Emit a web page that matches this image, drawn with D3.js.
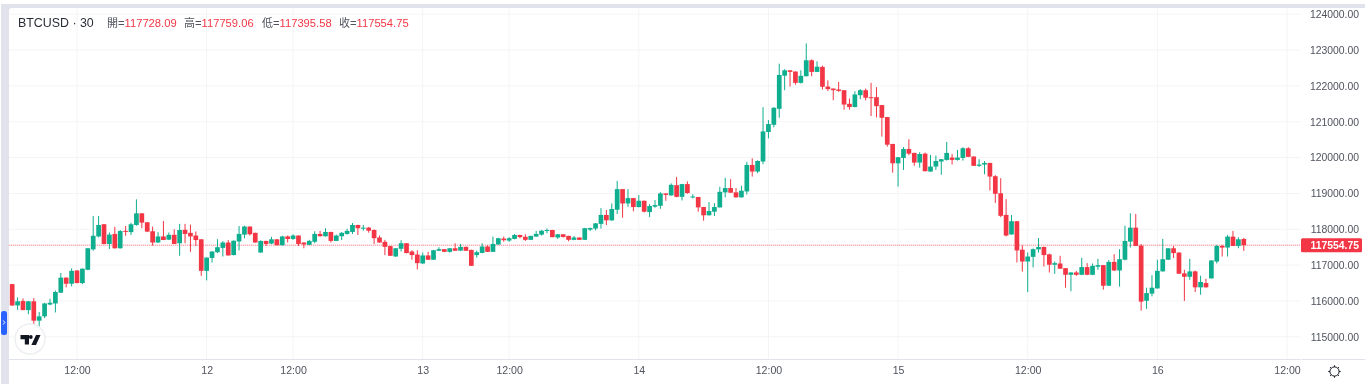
<!DOCTYPE html>
<html>
<head>
<meta charset="utf-8">
<script src="https://cdn.jsdelivr.net/npm/d3@7"></script>
<style>
    html, body { margin: 0; padding: 0; background: #fff; overflow: hidden; }
    svg { display: block; filter: blur(0.3px); }
    .price-axis text, .time-axis text { font-family: "Liberation Sans", sans-serif; font-size: 10.4px; fill: #50535e; }
    .time-axis text { font-size: 10.6px; }
    .legend text { font-family: "Liberation Sans", "Noto Sans CJK TC", sans-serif; }
</style>
</head>
<body>
<div id="chart"></div>
<script>
// BTCUSD 30 min candles
const opens = [
    116470,115875,116000,115745,115990,115450,115570,115900,115930,116230,
    116650,116480,116850,116500,116870,117440,117800,118140,117590,117870,
    117470,117955,117920,118120,118445,118195,117945,117630,117800,117710,
    117845,117610,117985,117900,117825,117720,116840,117200,117360,117480,
    117630,117280,117660,117850,118075,117900,117350,117675,117600,117720,
    117555,117800,117730,117825,117630,117565,117650,117870,117805,117925,
    117675,117805,117870,117925,118120,118020,118045,117980,117770,117650,
    117530,117240,117455,117610,117380,117295,117045,117270,117150,117400,
    117445,117370,117470,117405,117510,117425,117280,117340,117520,117370,
    117575,117740,117685,117730,117840,117790,117705,117795,117850,117955,
    117980,117770,117860,117815,117705,117770,117705,117990,118020,118150,
    118400,118250,118545,119120,118720,118870,118620,118795,118480,118630,
    118655,119000,118945,119230,118905,119260,118890,118900,118620,118390,
    118490,118610,119030,119150,119030,118890,119055,119795,119610,119890,
    120715,120915,121360,122285,122435,122400,122085,122270,122715,122390,
    122530,121980,121925,121900,121880,121500,121410,121740,121880,121685,
    121685,121465,121130,120380,119840,119990,120240,120130,119860,120110,
    119610,119750,119890,119935,120000,119935,119990,120260,120030,119770,
    119805,119850,119480,119005,118400,117855,118225,117430,117100,117230,
    117440,117505,117300,117010,117045,116915,116730,116795,116730,116945,
    116730,116955,117000,116425,117090,116850,117150,117655,118045,117545,
    116005,116205,116350,116825,117150,117470,117350,116770,116675,116825,
    116380,116500,116630,117100,117535,117490,117795,117535,117728.09
]
const highs = [
    116480,116100,116070,116000,116080,115690,115950,116060,116290,116780,
    116660,116910,116860,116910,117480,118370,118370,118150,117910,118070,
    117980,118090,118180,118835,118450,118200,118075,117920,118230,117910,
    118000,118150,118150,118130,117940,117725,117215,117385,117725,117670,
    117700,117690,118090,118100,118080,117905,117690,117680,117790,117725,
    117820,117825,117860,117830,117635,117705,117945,117955,118030,117930,
    117850,117925,118010,118175,118125,118120,118065,118000,117825,117705,
    117535,117475,117695,117615,117415,117415,117350,117370,117425,117500,
    117450,117475,117610,117590,117515,117430,117405,117610,117555,117795,
    117760,117795,117780,117870,117850,117860,117820,117955,117980,118025,
    117985,117865,117865,117820,117815,117775,118040,118045,118170,118590,
    118540,118720,119350,119125,119120,118875,118955,118800,118700,118815,
    119035,119005,119280,119460,119265,119335,118980,118905,118625,118760,
    118730,119185,119435,119400,119150,119215,119880,119980,119925,121405,
    121045,121405,122620,122465,122440,122405,122435,123185,122740,122685,
    122565,122155,121930,122110,121885,121650,121850,121910,121925,122085,
    121965,121470,121135,120385,120015,120290,120510,120135,120150,120140,
    120075,120055,119960,120435,120100,120215,120290,120290,120035,119955,
    119905,119855,119510,119425,118840,118400,118230,117550,117355,117465,
    117755,117520,117320,117100,117260,116920,116800,116835,117205,117055,
    117045,117175,117005,117140,117305,117445,118100,118445,118425,117590,
    116370,116720,117150,117730,117475,117535,117355,116870,117175,116850,
    116705,116620,117135,117565,117565,117840,117955,117780,117759.06
]
const lows = [
    115860,115750,115745,115630,115340,115290,115520,115880,115680,116230,
    116380,116410,116490,116470,116860,117400,117770,117580,117450,117460,
    117460,117820,117840,118100,118030,117920,117540,117620,117700,117700,
    117590,117260,117610,117370,117535,116700,116575,117070,117335,117240,
    117265,117270,117410,117750,117825,117625,117350,117535,117585,117550,
    117545,117630,117705,117535,117470,117560,117610,117800,117795,117630,
    117670,117700,117850,117870,117840,117960,117905,117590,117625,117280,
    117255,117235,117380,117330,117150,116880,117035,117145,117145,117390,
    117365,117350,117395,117390,117395,116975,117210,117330,117365,117365,
    117570,117650,117650,117720,117750,117675,117700,117795,117825,117890,
    117775,117730,117770,117665,117695,117700,117700,117950,117970,118020,
    118120,118230,118425,118320,118630,118500,118610,118470,118340,118600,
    118570,118795,118940,118890,118805,118990,118860,118490,118240,118385,
    118370,118605,118890,119015,118885,118885,118970,119470,119565,119815,
    120535,120845,121110,121880,121980,122035,122065,122265,122270,122385,
    121900,121860,121600,121835,121335,121335,121400,121630,121595,121160,
    121120,120585,120305,119580,119190,119655,120065,119770,119720,119615,
    119605,119655,119520,119915,119805,119915,119915,120015,119765,119740,
    119535,119080,118735,118340,117800,117850,117075,116820,116245,116935,
    117350,116960,116795,116755,116895,116370,116270,116700,116720,116720,
    116720,116870,116315,116420,116835,116400,117130,117490,117530,115730,
    115780,116130,116345,116820,117145,117195,116755,116000,116590,116250,
    116175,116375,116625,117045,117240,117240,117530,117470,117395.58
]
const closes = [
    115875,115990,115745,115990,115450,115570,115930,115950,116250,116650,
    116480,116840,116500,116900,117470,117820,118120,117590,117850,117470,
    117950,117935,118140,118445,118185,117935,117630,117800,117700,117845,
    117590,117980,117870,117800,117700,116840,117210,117380,117500,117630,
    117270,117680,117870,118075,117860,117630,117675,117590,117720,117555,
    117800,117730,117825,117590,117575,117675,117870,117805,117925,117675,
    117825,117900,117955,118120,118030,118045,117960,117750,117630,117510,
    117260,117470,117610,117335,117280,117055,117270,117150,117415,117445,
    117370,117470,117400,117510,117400,116980,117360,117520,117370,117590,
    117750,117695,117750,117840,117780,117705,117815,117870,117960,117980,
    117780,117860,117785,117705,117770,117705,118030,118035,118165,118400,
    118250,118565,119120,118720,118870,118620,118795,118490,118650,118675,
    119000,118960,119240,118905,119260,119010,118915,118610,118390,118510,
    118620,119045,119150,119020,118890,119075,119795,119610,119905,120730,
    120935,121390,122305,122435,122390,122085,122280,122715,122390,122535,
    121975,121910,121880,121860,121480,121410,121760,121880,121670,121665,
    121435,121110,120360,119840,120010,120240,120110,119860,120100,119620,
    119750,119905,119955,120130,119935,120000,120260,120020,119770,119805,
    119850,119470,118990,118375,117825,118225,117410,117100,117240,117445,
    117505,117280,117010,117055,116900,116730,116795,116730,116945,116730,
    116980,117000,116425,117090,116850,117165,117675,118045,117535,115980,
    116220,116370,116840,117165,117470,117335,116760,116675,116825,116380,
    116530,116380,117130,117535,117490,117795,117535,117720,117554.75
]

const priceTicks = [115000, 116000, 117000, 118000, 119000, 120000, 121000, 122000, 123000, 124000]
const timeTickBars = [12, 36, 52, 76, 92, 116, 140, 164, 188, 212, 236]
const timeTickLabels = ["12:00", "12", "12:00", "13", "12:00", "14", "12:00", "15", "12:00", "16", "12:00"]

const symbolName = "BTCUSD · 30"
const legendNames = ["開", "高", "低", "收"]
const legendValues = ["117728.09", "117759.06", "117395.58", "117554.75"]
const lastPrice = 117554.75

const upColor = "#0fae8f"
const downColor = "#f23645"
const gridColor = "#f4f4f6"
const frameColor = "#e0e3eb"

let dimensions = {
    width: 1365,
    height: 391,
    plotLeft: 9,
    plotTop: 8,
    plotRight: 1300.5,
    plotBottom: 359,
}

const wrapper = d3.select("#chart")
    .append("svg")
    .attr("width", dimensions.width)
    .attr("height", dimensions.height)

// bar number to x, price to y
const xScale = d3.scaleLinear()
    .domain([12, 236])
    .range([77, 1287])

const yScale = d3.scaleLinear()
    .domain([115000, 124000])
    .range([336.8, 14.2])

const bodyWidth = 4.7

// frame
wrapper.append("rect")
    .attr("x", 1).attr("y", 4)
    .attr("width", dimensions.width).attr("height", 380)
    .attr("fill", frameColor)
wrapper.append("rect")
    .attr("x", dimensions.plotLeft).attr("y", dimensions.plotTop)
    .attr("width", dimensions.width).attr("height", 391)
    .attr("rx", 3)
    .attr("fill", "#fff")

const clip = wrapper.append("clipPath").attr("id", "plot-clip")
    .append("rect")
    .attr("x", dimensions.plotLeft).attr("y", dimensions.plotTop)
    .attr("width", dimensions.plotRight - dimensions.plotLeft)
    .attr("height", dimensions.plotBottom - dimensions.plotTop)

// grid
const grid = wrapper.append("g")
grid.selectAll(".h")
    .data(priceTicks)
    .join("line")
    .attr("x1", dimensions.plotLeft).attr("x2", dimensions.plotRight)
    .attr("y1", d => yScale(d)).attr("y2", d => yScale(d))
    .attr("stroke", gridColor)
grid.selectAll(".v")
    .data(timeTickBars)
    .join("line")
    .attr("class", "v")
    .attr("x1", d => xScale(d)).attr("x2", d => xScale(d))
    .attr("y1", dimensions.plotTop).attr("y2", dimensions.plotBottom)
    .attr("stroke", gridColor)

// last price line
wrapper.append("line")
    .attr("x1", dimensions.plotLeft).attr("x2", dimensions.plotRight)
    .attr("y1", yScale(lastPrice)).attr("y2", yScale(lastPrice))
    .attr("stroke", "#f9aeb5")
    .attr("stroke-width", 1.6)
    .attr("stroke-dasharray", "1.3 0.7")

// candles
const candles = wrapper.append("g")
    .attr("clip-path", "url(#plot-clip)")
    .selectAll("g")
    .data(d3.range(opens.length))
    .join("g")
    .attr("fill", i => closes[i] >= opens[i] ? upColor : downColor)

candles.append("rect")
    .attr("x", i => xScale(i) - 0.5)
    .attr("width", 1)
    .attr("y", i => yScale(highs[i]))
    .attr("height", i => yScale(lows[i]) - yScale(highs[i]))

candles.append("rect")
    .attr("x", i => xScale(i) - bodyWidth / 2)
    .attr("width", bodyWidth)
    .attr("y", i => yScale(Math.max(opens[i], closes[i])))
    .attr("height", i => Math.max(1, Math.abs(yScale(opens[i]) - yScale(closes[i]))))

// axes
const priceAxis = d3.axisRight(yScale)
    .tickValues(priceTicks)
    .tickSize(0)
    .tickPadding(0)
    .tickFormat(d3.format(".2f"))

wrapper.append("g")
    .attr("class", "price-axis")
    .attr("transform", "translate(1359,0)")
    .call(priceAxis)
    .call(g => g.select(".domain").remove())
    .call(g => g.selectAll("text").attr("text-anchor", "end"))

const timeAxis = d3.axisBottom(xScale)
    .tickValues(timeTickBars)
    .tickSize(0)
    .tickPadding(0)
    .tickFormat((d, i) => timeTickLabels[i])

wrapper.append("g")
    .attr("class", "time-axis")
    .attr("transform", "translate(0,366)")
    .call(timeAxis)
    .call(g => g.select(".domain").remove())

wrapper.append("line")
    .attr("x1", dimensions.plotLeft).attr("x2", dimensions.plotRight)
    .attr("y1", dimensions.plotBottom + 0.5).attr("y2", dimensions.plotBottom + 0.5)
    .attr("stroke", frameColor)
wrapper.append("line")
    .attr("x1", 1301.5).attr("x2", dimensions.width)
    .attr("y1", dimensions.plotBottom + 0.5).attr("y2", dimensions.plotBottom + 0.5)
    .attr("stroke", frameColor)

// last price tag
wrapper.append("rect")
    .attr("x", 1301).attr("y", yScale(lastPrice) - 7)
    .attr("width", 61).attr("height", 14)
    .attr("rx", 1.5)
    .attr("fill", downColor)
wrapper.append("text")
    .attr("x", 1359).attr("y", yScale(lastPrice))
    .attr("dy", "0.35em")
    .attr("text-anchor", "end")
    .attr("fill", "#fff")
    .style("font-family", "'Liberation Sans', sans-serif")
    .style("font-size", "10.4px")
    .style("font-weight", "bold")
    .text(d3.format(".2f")(lastPrice))

// legend
const legend = wrapper.append("g").attr("class", "legend")
legend.append("text")
    .attr("x", 18).attr("y", 27)
    .attr("fill", "#2a2e39")
    .style("font-size", "12.4px")
    .text(symbolName)

const legendX = [107, 184, 262, 339]
const legendItems = legend.selectAll(".item")
    .data(legendNames)
    .join("text")
    .attr("class", "item")
    .attr("x", (d, i) => legendX[i])
    .attr("y", 27)
    .style("font-size", "11.2px")
legendItems.append("tspan")
    .attr("fill", "#50535e")
    .style("font-family", "'Noto Sans CJK TC', sans-serif")
    .style("font-size", "11px")
    .text(d => d)
legendItems.append("tspan")
    .attr("fill", "#50535e")
    .text("=")
legendItems.append("tspan")
    .attr("fill", downColor)
    .text((d, i) => legendValues[i])

// side handle
wrapper.append("rect")
    .attr("x", 1).attr("y", 311)
    .attr("width", 6).attr("height", 24)
    .attr("rx", 2.5)
    .attr("fill", "#2962ff")
wrapper.append("path")
    .attr("d", "M3.2 320.5 l1.6 2 -1.6 2")
    .attr("fill", "none")
    .attr("stroke", "#fff")

// logo
wrapper.append("circle")
    .attr("cx", 30).attr("cy", 339).attr("r", 15)
    .attr("fill", "#fff")
    .attr("stroke", "#eeeff2")
    .attr("stroke-width", 1.5)
wrapper.append("path")
    .attr("d", "M20.5 335 h8.5 v9.5 h-4.2 v-5.2 h-4.3 z M36 335 h4.5 l-4.5 10 h-4.6 z")
    .attr("fill", "#131722")
wrapper.append("circle")
    .attr("cx", 30.8).attr("cy", 337).attr("r", 1.9)
    .attr("fill", "#131722")

// settings icon
const gear = wrapper.append("g").attr("transform", "translate(1334.5,371.5)")
gear.append("circle")
    .attr("r", 4.6)
    .attr("fill", "none")
    .attr("stroke", "#131722")
gear.selectAll("line")
    .data(d3.range(8))
    .join("line")
    .attr("x1", d => 4.6 * Math.cos(d * Math.PI / 4))
    .attr("y1", d => 4.6 * Math.sin(d * Math.PI / 4))
    .attr("x2", d => 6.2 * Math.cos(d * Math.PI / 4))
    .attr("y2", d => 6.2 * Math.sin(d * Math.PI / 4))
    .attr("stroke", "#131722")
</script>
</body>
</html>
